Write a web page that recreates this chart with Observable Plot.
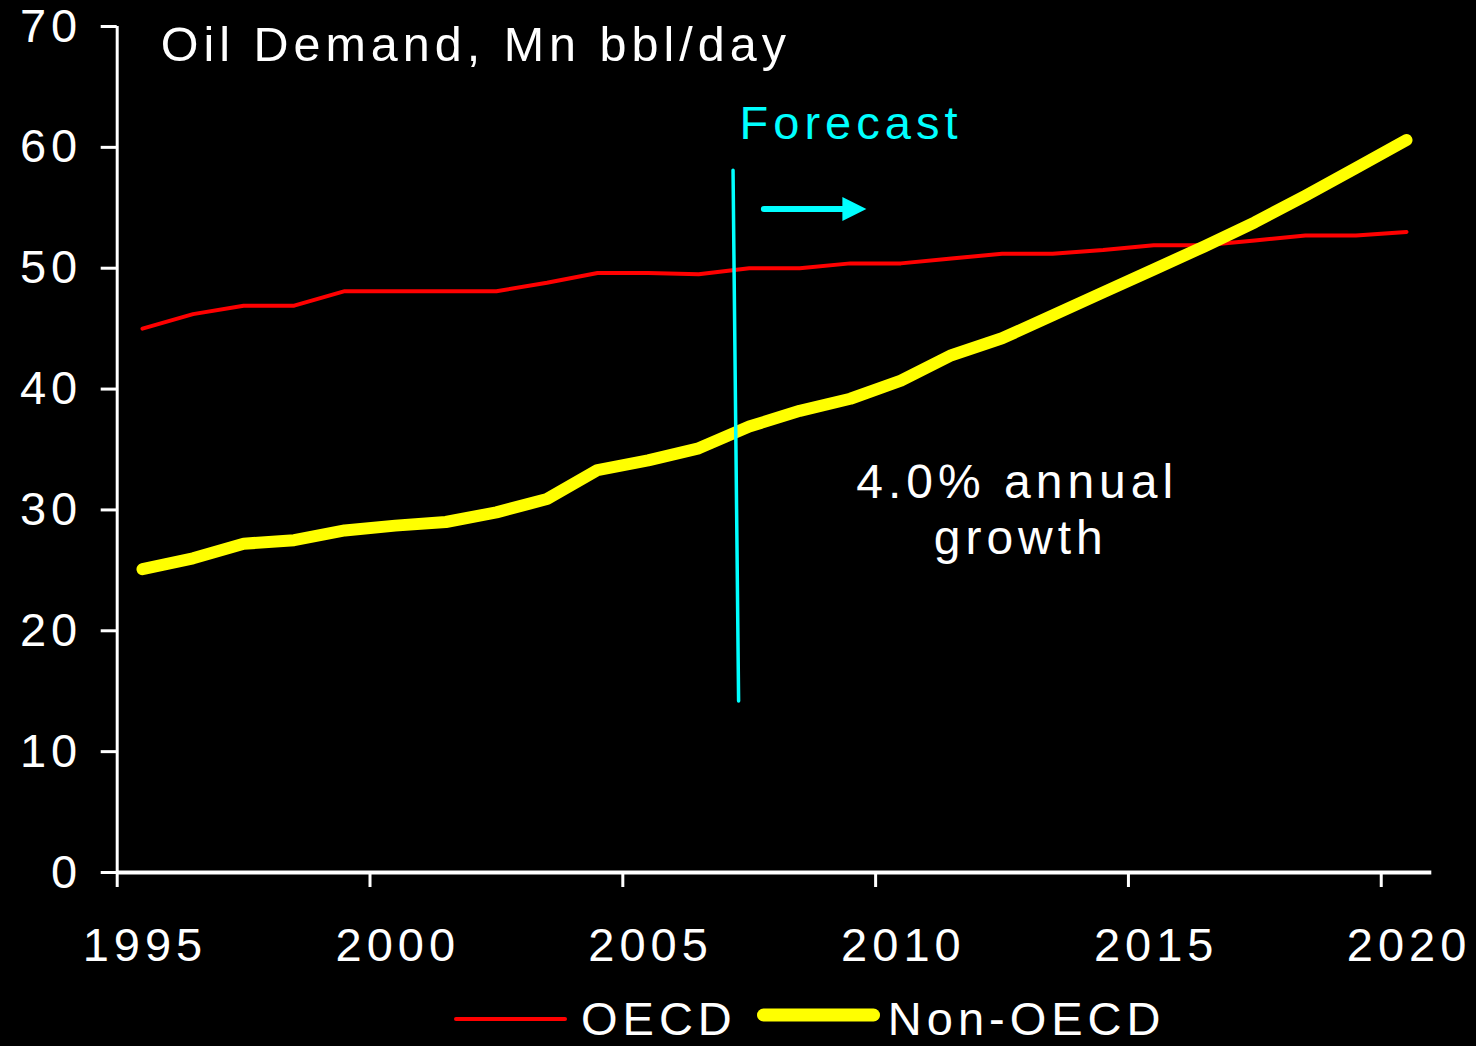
<!DOCTYPE html>
<html>
<head>
<meta charset="utf-8">
<script src="https://cdn.jsdelivr.net/npm/d3@7"></script>
<script src="https://cdn.jsdelivr.net/npm/@observablehq/plot@0.6"></script>
<style>
  html, body { margin: 0; padding: 0; background: #000; width: 1476px; height: 1046px; overflow: hidden; }
  #legend { display: flex; align-items: center; height: 67px; padding-left: 454px; color: #fff;
    font-family: "Liberation Sans", Arial, sans-serif; font-size: 47px; letter-spacing: 5px; line-height: 47px; }
  #legend .item { display: flex; align-items: center; }
  #legend svg { display: block; }
</style>
</head>
<body>
<div id="chart"></div>
<div id="legend"></div>
<script>
// ---- data ----
const years = [1995, 1996, 1997, 1998, 1999, 2000, 2001, 2002, 2003, 2004, 2005, 2006, 2007,
               2008, 2009, 2010, 2011, 2012, 2013, 2014, 2015, 2016, 2017, 2018, 2019, 2020];
const oecd = [45.0, 46.2, 46.9, 46.9, 48.1, 48.1, 48.1, 48.1, 48.8, 49.6, 49.6, 49.5, 50.0,
              50.0, 50.4, 50.4, 50.8, 51.2, 51.2, 51.5, 51.9, 51.9, 52.3, 52.7, 52.7, 53.0];
const nonOecd = [25.1, 26.0, 27.2, 27.5, 28.3, 28.7, 29.0, 29.8, 30.9, 33.3, 34.1, 35.1, 36.9,
                 38.2, 39.2, 40.7, 42.8, 44.2, 46.1, 48.0, 49.9, 51.8, 53.8, 56.0, 58.3, 60.6];
const seriesNames = ["OECD", "Non-OECD"];
const seriesColors = ["#ff0000", "#ffff00"];
const yTicks = [0, 10, 20, 30, 40, 50, 60, 70];
const xTickLabels = [1995, 2000, 2005, 2010, 2015, 2020];
const title = "Oil Demand, Mn bbl/day";
const forecastLabel = "Forecast";
const growthLines = ["4.0% annual", "growth"];

// ---- build table ----
const rows = [];
years.forEach((yr, i) => {
  rows.push({year: yr, value: oecd[i], series: seriesNames[0]});
  rows.push({year: yr, value: nonOecd[i], series: seriesNames[1]});
});
const xDomain = [years[0] - 0.5, years[years.length - 1] + 0.5];
const xBoundaries = xTickLabels.map(y => y - 0.5);

const FONT = 47;
const cyan = "#00ffff";

// right-pointing triangle symbol for the forecast arrow head
const rightTriangle = {
  draw(context, size) {
    const r = Math.sqrt(size / Math.PI);
    context.moveTo(r, 0);
    context.lineTo(-r, -r);
    context.lineTo(-r, r);
    context.closePath();
  }
};

const chart = Plot.plot({
  width: 1476,
  height: 985,
  marginLeft: 116.7,
  marginRight: 44.7,
  marginTop: 26,
  marginBottom: 113,
  style: {background: "#000", color: "#fff", fontFamily: "Liberation Sans, Arial, sans-serif",
          fontSize: FONT + "px", letterSpacing: "5px"},
  x: {domain: xDomain, axis: null},
  y: {domain: [0, 70], axis: null},
  marks: [
    // axes
    Plot.ruleX([xDomain[0]], {y1: 0, y2: 70, stroke: "#fff", strokeWidth: 3}),
    Plot.ruleY([0], {x1: xDomain[0], x2: xDomain[1], stroke: "#fff", strokeWidth: 4}),
    Plot.axisY({ticks: yTicks, tickSize: 16, tickPadding: 19, strokeWidth: 3, stroke: "#fff",
                fontSize: FONT, tickFormat: d => String(d)}),
    Plot.axisX({ticks: xBoundaries, tickSize: 15, strokeWidth: 3, stroke: "#fff", tickFormat: () => ""}),
    Plot.axisX({ticks: xTickLabels, tickSize: 0, tickPadding: 55, dx: 2.5, fontSize: FONT,
                tickFormat: d => String(d)}),
    // series
    Plot.line(rows.filter(d => d.series === seriesNames[0]), {
      x: "year", y: "value", stroke: seriesColors[0], strokeWidth: 4,
      strokeLinecap: "round", strokeLinejoin: "round"}),
    Plot.line(rows.filter(d => d.series === seriesNames[1]), {
      x: "year", y: "value", stroke: seriesColors[1], strokeWidth: 12,
      strokeLinecap: "round", strokeLinejoin: "round"}),
    // forecast divider & arrow
    Plot.link([{x1: 2006.68, y1: 58.1, x2: 2006.79, y2: 14.2}], {
      x1: "x1", y1: "y1", x2: "x2", y2: "y2", stroke: cyan, strokeWidth: 3.5, strokeLinecap: "round"}),
    Plot.link([{x1: 2007.29, y1: 54.9, x2: 2008.9, y2: 54.9}], {
      x1: "x1", y1: "y1", x2: "x2", y2: "y2", stroke: cyan, strokeWidth: 6, strokeLinecap: "round"}),
    Plot.dot([{x: 2009.08, y: 54.9}], {x: "x", y: "y", r: 12, symbol: rightTriangle, fill: cyan, stroke: null}),
    // annotations
    Plot.text([title], {x: 1995.36, y: 68.43, text: d => d, textAnchor: "start", fill: "#fff", fontSize: 48.5}),
    Plot.text([forecastLabel], {x: 2006.81, y: 61.97, text: d => d, textAnchor: "start", fill: cyan, fontSize: FONT}),
    Plot.text([growthLines[0]], {x: 2012.3, y: 32.27, text: d => d, textAnchor: "middle", fill: "#fff", fontSize: 48}),
    Plot.text([growthLines[1]], {x: 2012.37, y: 27.61, text: d => d, textAnchor: "middle", fill: "#fff", fontSize: 48})
  ]
});
document.getElementById("chart").appendChild(chart);

// ---- legend ----
const legend = d3.select("#legend");
const swatches = [
  {w: 113, sw: 4, gapAfter: 14, gapBefore: 0, lift: 0},
  {w: 123, sw: 13, gapAfter: 8, gapBefore: 20, lift: 4}
];
seriesNames.forEach((name, i) => {
  const item = legend.append("div").attr("class", "item").style("margin-left", swatches[i].gapBefore + "px");
  const s = item.append("svg").attr("width", swatches[i].w).attr("height", 20)
    .style("margin-right", swatches[i].gapAfter + "px")
    .style("position", "relative").style("top", (-swatches[i].lift) + "px");
  s.append("line").attr("x1", swatches[i].sw / 2).attr("x2", swatches[i].w - swatches[i].sw / 2)
    .attr("y1", 10).attr("y2", 10).attr("stroke", seriesColors[i])
    .attr("stroke-width", swatches[i].sw).attr("stroke-linecap", "round");
  item.append("span").text(name);
});
</script>
</body>
</html>
